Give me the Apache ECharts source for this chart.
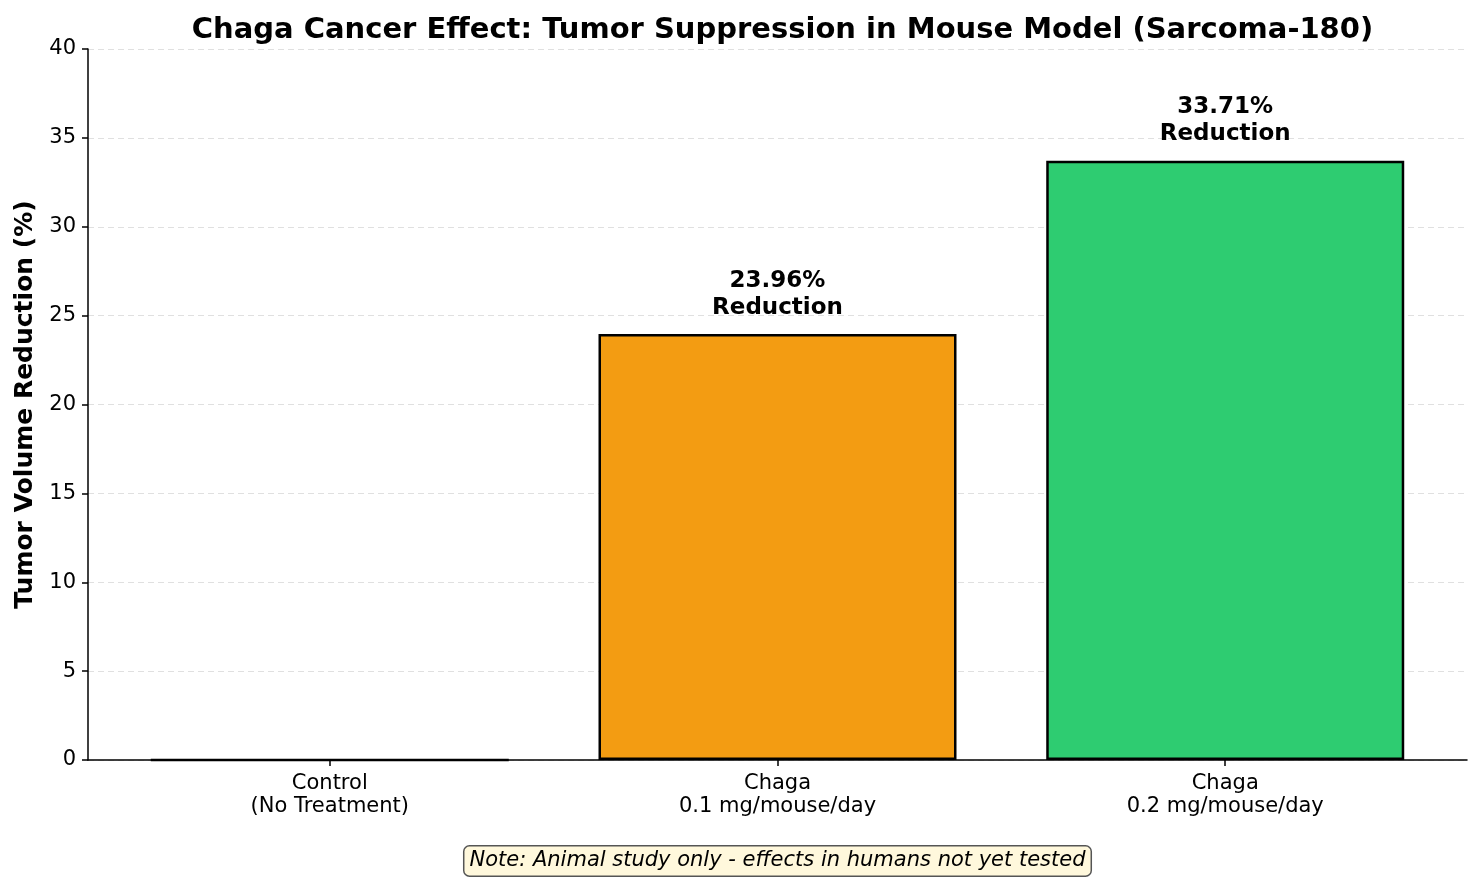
<!DOCTYPE html>
<html>
<head>
<meta charset="utf-8">
<script src="https://cdn.jsdelivr.net/npm/echarts@6/dist/echarts.min.js"></script>
<style>
  html, body { margin: 0; padding: 0; background: #fff; }
  #main { width: 1482px; height: 886px; }
</style>
</head>
<body>
<div id="main"></div>
<script>
  // data
  const categories = ['Control\n(No Treatment)', 'Chaga\n0.1 mg/mouse/day', 'Chaga\n0.2 mg/mouse/day'];
  const reduction = [0, 23.96, 33.71];
  const barColors = ['#e74c3c', '#f39c12', '#2ecc71'];
  const yTicks = [0, 5, 10, 15, 20, 25, 30, 35, 40];

  const font = 'DejaVu Sans';
  let chart = echarts.init(document.getElementById('main'));

  // x positions 0..n-1 on a value axis, matplotlib style margins
  let positions = categories.map((c, i) => i);
  let barData = reduction.map((v, i) => ({
    value: [i, v],
    itemStyle: { color: barColors[i] },
    label: { show: v > 0 }
  }));

  let plotCenter = 88 + (1482 - 88 - 15) / 2;

  let option = {
    animation: false,
    title: {
      text: 'Chaga Cancer Effect: Tumor Suppression in Mouse Model (Sarcoma-180)',
      left: plotCenter,
      textAlign: 'center',
      top: 11,
      textStyle: { fontFamily: font, fontSize: 29, fontWeight: 'bold', color: '#000' }
    },
    grid: { left: 88, right: 15, top: 49, bottom: 126 },
    xAxis: {
      type: 'value',
      min: -0.54,
      max: 2.54,
      axisLine: { show: true, onZero: false, lineStyle: { color: '#000', width: 1.5 } },
      axisTick: { show: true, customValues: positions, length: 6, lineStyle: { color: '#000', width: 1.5 } },
      axisLabel: {
        customValues: positions,
        formatter: (v) => categories[Math.round(v)],
        fontFamily: font, fontSize: 21, color: '#000',
        lineHeight: 23, margin: 12
      },
      splitLine: { show: false }
    },
    yAxis: {
      type: 'value',
      min: yTicks[0],
      max: yTicks[yTicks.length - 1],
      interval: 5,
      name: 'Tumor Volume Reduction (%)',
      nameLocation: 'middle',
      nameGap: 50,
      nameTextStyle: { fontFamily: font, fontSize: 25, fontWeight: 'bold', color: '#000' },
      axisLine: { show: true, onZero: false, lineStyle: { color: '#000', width: 1.5 } },
      axisTick: { show: true, length: 6, lineStyle: { color: '#000', width: 1.5 } },
      axisLabel: { fontFamily: font, fontSize: 21, color: '#000', margin: 12 },
      splitLine: { show: true, lineStyle: { color: '#e0e0e0', type: [6, 4], width: 1 } }
    },
    series: [{
      type: 'bar',
      data: barData,
      barWidth: 358,
      itemStyle: { borderColor: '#000', borderWidth: 2.5 },
      label: {
        position: 'top',
        distance: 13,
        formatter: (p) => p.value[1].toFixed(2) + '%\nReduction',
        fontFamily: font, fontSize: 23, fontWeight: 'bold', color: '#000',
        lineHeight: 27, align: 'center'
      }
    }],
    graphic: [{
      type: 'text',
      x: plotCenter,
      y: 861,
      style: {
        text: 'Note: Animal study only - effects in humans not yet tested',
        font: 'italic 21px "DejaVu Sans"',
        fill: '#000',
        align: 'center',
        verticalAlign: 'middle',
        backgroundColor: '#fff8dc',
        borderColor: '#555',
        borderWidth: 1.5,
        borderRadius: 5,
        padding: [4, 5, 4, 5]
      }
    }]
  };
  chart.setOption(option);
</script>
</body>
</html>
